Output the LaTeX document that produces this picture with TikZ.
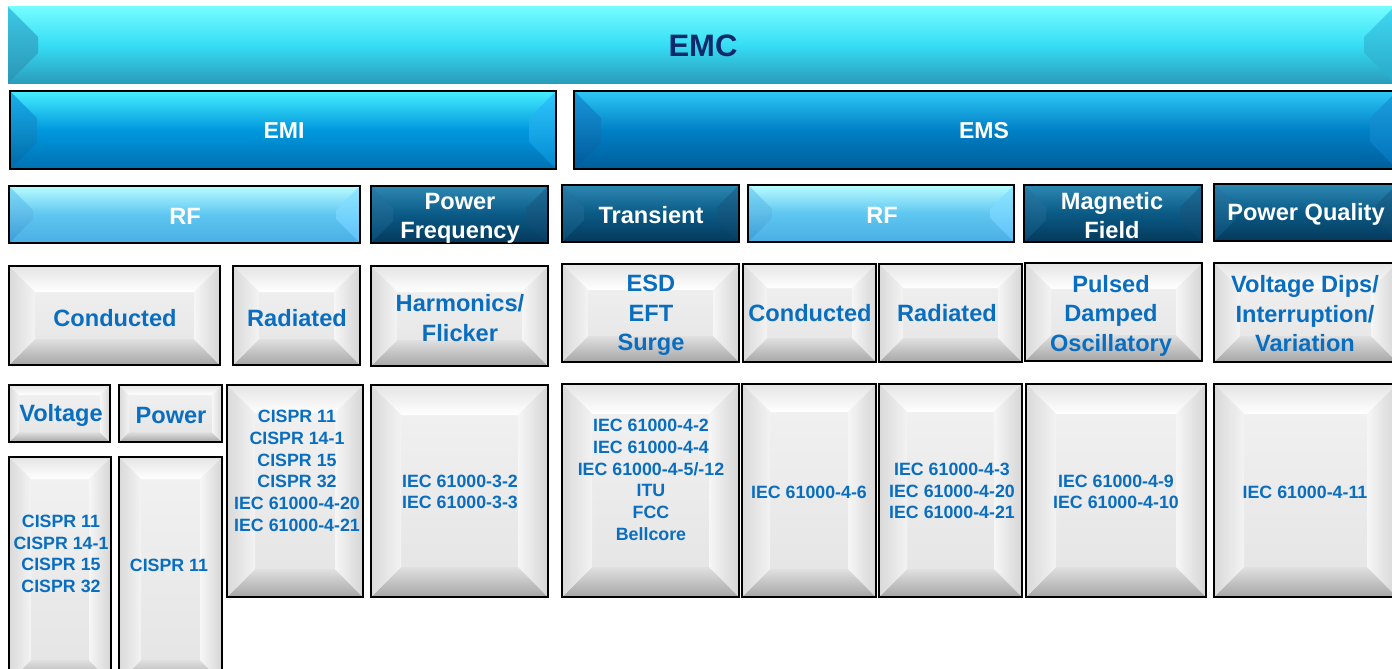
\documentclass[tikz,border=0pt]{standalone}
\usepackage{fontspec}
\setmainfont{Liberation Sans}
\definecolor{gF1}{HTML}{F2F2F2}\definecolor{gF2}{HTML}{E4E4E4}
\definecolor{gT1}{HTML}{E4E4E4}\definecolor{gT2}{HTML}{FFFFFF}
\definecolor{gB1}{HTML}{E0E0E0}\definecolor{gB2}{HTML}{A6A6A6}
\definecolor{gL1}{HTML}{D9D9D9}\definecolor{gL2}{HTML}{F3F3F3}
\definecolor{gR1}{HTML}{F6F6F6}\definecolor{gR2}{HTML}{D5D5D5}
\definecolor{cF1}{HTML}{74FCFF}\definecolor{cF2}{HTML}{36DDF5}\definecolor{cF3}{HTML}{2A9CBC}
\definecolor{cL1}{HTML}{3CC8E4}\definecolor{cL2}{HTML}{2A96B6}
\definecolor{cR1}{HTML}{40D8F0}\definecolor{cR2}{HTML}{28A8C8}
\definecolor{iF1}{HTML}{46EEFF}\definecolor{iF2}{HTML}{0098DE}\definecolor{iF3}{HTML}{0070B2}
\definecolor{iL1}{HTML}{1AB0EC}\definecolor{iL2}{HTML}{0068A8}
\definecolor{iR1}{HTML}{30C8FF}\definecolor{iR2}{HTML}{0088D0}
\definecolor{sF1}{HTML}{2EC8F6}\definecolor{sF2}{HTML}{0080C6}\definecolor{sF3}{HTML}{005E9A}
\definecolor{sL1}{HTML}{1898DA}\definecolor{sL2}{HTML}{00589A}
\definecolor{sR1}{HTML}{1CA0E0}\definecolor{sR2}{HTML}{0070B8}
\definecolor{lF1}{HTML}{B8FCFF}\definecolor{lF2}{HTML}{5EC6F0}\definecolor{lF3}{HTML}{4AAEE4}
\definecolor{lL1}{HTML}{80DCF8}\definecolor{lL2}{HTML}{3C9CD8}
\definecolor{lR1}{HTML}{90E8FF}\definecolor{lR2}{HTML}{5CC0F8}
\definecolor{dF1}{HTML}{2D88B2}\definecolor{dF2}{HTML}{0A5A86}\definecolor{dF3}{HTML}{05395A}
\definecolor{dL1}{HTML}{2A7CA8}\definecolor{dL2}{HTML}{064A72}
\definecolor{dR1}{HTML}{1E6E9A}\definecolor{dR2}{HTML}{063E62}
\definecolor{blueText}{HTML}{0A6EC0}
\definecolor{emcText}{HTML}{0E2A6A}
% bevelled box: x1 y1 x2 y2 inset kind
\newcommand\bev[6]{%
  \path[#6 face] (#1,#2) rectangle (#3,#4);
  \path[#6 top] (#1,#2) -- (#3,#2) -- ({#3-#5},{#2+#5}) -- ({#1+#5},{#2+#5}) -- cycle;
  \path[#6 bot] (#1,#4) -- (#3,#4) -- ({#3-#5},{#4-#5}) -- ({#1+#5},{#4-#5}) -- cycle;
  \path[#6 left] (#1,#2) -- ({#1+#5},{#2+#5}) -- ({#1+#5},{#4-#5}) -- (#1,#4) -- cycle;
  \path[#6 right] (#3,#2) -- ({#3-#5},{#2+#5}) -- ({#3-#5},{#4-#5}) -- (#3,#4) -- cycle;
  \path[#6 frame] (#1,#2) rectangle (#3,#4);
}
\begin{document}
\begin{tikzpicture}[x=1pt,y=-1pt,
  kgray face/.style={top color=gF1,bottom color=gF2},
  kgray top/.style={top color=gT1,bottom color=gT2},
  kgray bot/.style={top color=gB1,bottom color=gB2},
  kgray left/.style={left color=gL1,right color=gL2},
  kgray right/.style={left color=gR1,right color=gR2},
  kgray frame/.style={draw=black,line width=2.4pt},
  kemc face/.style={top color=cF1,bottom color=cF3,middle color=cF2},
  kemc top/.style={}, kemc bot/.style={},
  kemc left/.style={top color=cL1,bottom color=cL2},
  kemc right/.style={top color=cR1,bottom color=cR2},
  kemc frame/.style={},
  kemi face/.style={top color=iF1,bottom color=iF3,middle color=iF2},
  kemi top/.style={}, kemi bot/.style={},
  kemi left/.style={top color=iL1,bottom color=iL2},
  kemi right/.style={top color=iR1,bottom color=iR2},
  kemi frame/.style={draw=black,line width=2.4pt},
  kems face/.style={top color=sF1,bottom color=sF3,middle color=sF2},
  kems top/.style={}, kems bot/.style={},
  kems left/.style={top color=sL1,bottom color=sL2},
  kems right/.style={top color=sR1,bottom color=sR2},
  kems frame/.style={draw=black,line width=2.4pt},
  klight face/.style={top color=lF1,bottom color=lF3,middle color=lF2},
  klight top/.style={}, klight bot/.style={},
  klight left/.style={top color=lL1,bottom color=lL2},
  klight right/.style={top color=lR1,bottom color=lR2},
  klight frame/.style={draw=black,line width=2.4pt},
  kdark face/.style={top color=dF1,bottom color=dF3,middle color=dF2},
  kdark top/.style={}, kdark bot/.style={},
  kdark left/.style={top color=dL1,bottom color=dL2},
  kdark right/.style={top color=dR1,bottom color=dR2},
  kdark frame/.style={draw=black,line width=2.4pt},
  lblemc/.style={font=\fontsize{31}{36}\selectfont\bfseries,text=emcText,align=center,inner sep=0pt},
  lblbar/.style={font=\fontsize{23}{28}\selectfont\bfseries,text=white,align=center,inner sep=0pt},
  lblhead/.style={font=\fontsize{23.6}{29}\selectfont\bfseries,text=white,align=center,inner sep=0pt},
  lblcat/.style={font=\fontsize{23.6}{29.5}\selectfont\bfseries,text=blueText,align=center,inner sep=0pt},
  lblstd/.style={font=\fontsize{17.8}{21.7}\selectfont\bfseries,text=blueText,align=center,inner sep=0pt}
]
\useasboundingbox (0,0) rectangle (1392,669);
\clip (0,0) rectangle (1392,669);
\fill[white] (0,0) rectangle (1392,669);

% level 1
\bev{8}{7}{1394}{83}{30}{kemc}
\node[lblemc] (emc) at (703,46) {EMC};

% level 2
\bev{10}{91}{556}{169}{27}{kemi}
\node[lblbar] (emi) at (284,131) {EMI};
\bev{574}{91}{1397}{169}{27}{kems}
\node[lblbar] (ems) at (984,131) {EMS};

% level 3
\bev{9}{186}{360}{243}{24}{klight}
\node[lblhead] (rf1) at (185,216) {RF};
\bev{371}{186}{548}{243}{22}{kdark}
\node[lblhead] (pf) at (460,218.5) {Power\\Frequency};
\bev{562}{185}{739}{242}{22}{kdark}
\node[lblhead] (tr) at (651,215) {Transient};
\bev{748}{185}{1014}{242}{24}{klight}
\node[lblhead] (rf2) at (882,215) {RF};
\bev{1024}{185}{1202}{242}{22}{kdark}
\node[lblhead] (mf) at (1112,216) {Magnetic\\Field};
\bev{1214}{184}{1397}{241}{22}{kdark}
\node[lblhead] (pq) at (1306,214) {Power Quality};

% level 4
\bev{9}{266}{220}{365}{26}{kgray}
\node[lblcat] (cond1) at (115,318) {Conducted};
\bev{233}{266}{360}{365}{26}{kgray}
\node[lblcat] (rad1) at (297,318) {Radiated};
\bev{371}{266}{548}{366}{26}{kgray}
\node[lblcat] (harm) at (460,318) {Harmonics/\\Flicker};
\bev{562}{264}{739}{362}{26}{kgray}
\node[lblcat] (esd) at (651,315.5) {ESD\\EFT\\Surge};
\bev{743}{264}{876}{362}{24}{kgray}
\node[lblcat] (cond2) at (810,313) {Conducted};
\bev{879}{264}{1022}{362}{24}{kgray}
\node[lblcat] (rad2) at (947,313) {Radiated};
\bev{1025}{263}{1202}{361}{26}{kgray}
\node[lblcat] (puls) at (1111,315.5) {Pulsed\\Damped\\Oscillatory};
\bev{1214}{263}{1397}{362}{26}{kgray}
\node[lblcat] (vdip) at (1305,314) {Voltage Dips/\\Interruption/\\Variation};

% level 5
\bev{9}{385}{110}{442}{10}{kgray}
\node[lblcat] (volt) at (61,415) {Voltage};
\bev{119}{385}{222}{442}{10}{kgray}
\node[lblcat] (pow) at (171,415) {Power};
\bev{227}{385}{363}{597}{28}{kgray}
\node[lblstd] (radstd) at (297,471) {CISPR 11\\CISPR 14-1\\CISPR 15\\CISPR 32\\IEC 61000-4-20\\IEC 61000-4-21};
\bev{371}{385}{548}{597}{30}{kgray}
\node[lblstd] (harmstd) at (460,492) {IEC 61000-3-2\\IEC 61000-3-3};
\bev{562}{384}{739}{597}{30}{kgray}
\node[lblstd] (trstd) at (651,480) {IEC 61000-4-2\\IEC 61000-4-4\\IEC 61000-4-5/-12\\ITU\\FCC\\Bellcore};
\bev{742}{384}{876}{597}{28}{kgray}
\node[lblstd] (cstd) at (809,492) {IEC 61000-4-6};
\bev{879}{384}{1022}{597}{28}{kgray}
\node[lblstd] (rstd) at (952,491) {IEC 61000-4-3\\IEC 61000-4-20\\IEC 61000-4-21};
\bev{1026}{384}{1206}{597}{30}{kgray}
\node[lblstd] (mstd) at (1116,492) {IEC 61000-4-9\\IEC 61000-4-10};
\bev{1214}{384}{1397}{597}{30}{kgray}
\node[lblstd] (pqstd) at (1305,492) {IEC 61000-4-11};

% level 6
\bev{9}{457}{111}{682}{22}{kgray}
\node[lblstd] (vstd) at (61,554) {CISPR 11\\CISPR 14-1\\CISPR 15\\CISPR 32};
\bev{119}{457}{222}{682}{22}{kgray}
\node[lblstd] (pstd) at (169,565) {CISPR 11};
\end{tikzpicture}
\end{document}
